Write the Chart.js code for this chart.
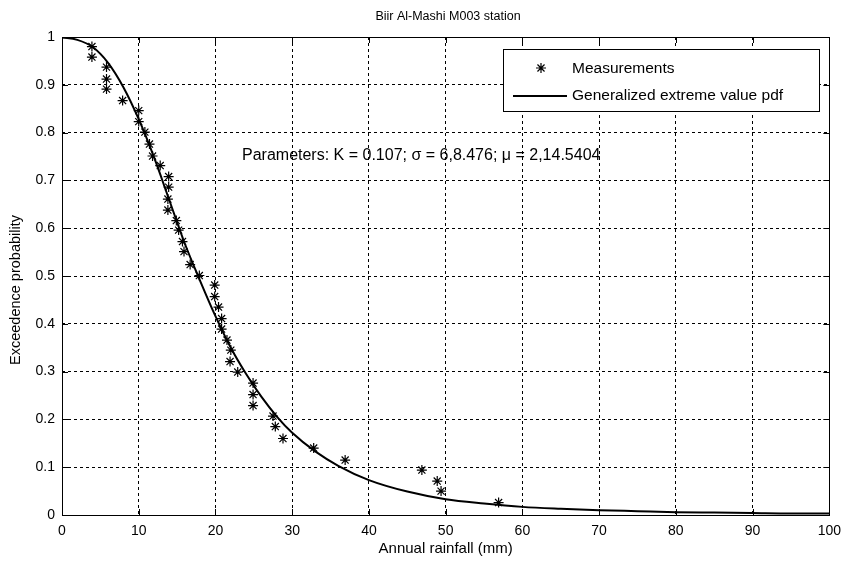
<!DOCTYPE html>
<html>
<head>
<meta charset="utf-8">
<script src="https://cdn.jsdelivr.net/npm/chart.js@4.4.1/dist/chart.umd.min.js"></script>
<style>
  html, body { margin: 0; padding: 0; background: #fff; }
  #wrap { width: 849px; height: 561px; }
</style>
</head>
<body>
<div id="wrap"><canvas id="myChart"></canvas></div>
<script>
// Measured points (annual rainfall mm, exceedance probability)
const measX = [3.9, 3.9, 5.8, 5.8, 5.8, 7.9, 10, 10, 10.8, 11.4, 11.8, 12.8, 13.9, 13.9, 13.8, 13.8, 14.9, 15.2, 15.7, 15.9,
  16.7, 17.9, 19.9, 19.9, 20.4, 20.8, 20.8, 21.5, 22.0, 21.9, 22.9, 24.9, 24.9, 24.9, 27.5, 27.8, 28.8, 32.8, 36.9, 46.9, 48.9, 49.4, 56.9];
const measY = [0.98, 0.958, 0.937, 0.912, 0.891, 0.867, 0.846, 0.823, 0.801, 0.776, 0.751, 0.731, 0.708, 0.686, 0.661, 0.638, 0.616, 0.596, 0.572, 0.551,
  0.524, 0.501, 0.481, 0.457, 0.435, 0.411, 0.389, 0.366, 0.345, 0.321, 0.299, 0.276, 0.252, 0.229, 0.207, 0.185, 0.160, 0.140, 0.115, 0.094, 0.071, 0.050, 0.026];

// Fitted GEV curve
const fitX = [0, 2, 4, 6, 8, 10, 12, 14, 16, 18, 20, 22, 24, 26, 28, 30, 33, 36, 40, 45, 50, 55, 60, 65, 70, 75, 80, 85, 90, 95, 100];
const fitY = [0.999, 0.994, 0.979, 0.946, 0.895, 0.828, 0.748, 0.658, 0.568, 0.49, 0.416, 0.35, 0.295, 0.247, 0.206, 0.172, 0.133, 0.103, 0.073,
  0.049, 0.033, 0.024, 0.017, 0.013, 0.010, 0.008, 0.006, 0.005, 0.004, 0.003, 0.003];

const xTicks = [0, 10, 20, 30, 40, 50, 60, 70, 80, 90, 100];
const yTicks = [0, 0.1, 0.2, 0.3, 0.4, 0.5, 0.6, 0.7, 0.8, 0.9, 1];

const chartTitle = 'Biir Al-Mashi M003 station';
const yTitle = 'Exceedence probability';
const paramText = 'Parameters: K = 0.107; \u03c3 = 6,8.476; \u03bc = 2,14.5404';
const FONT = '"Liberation Sans", Arial, sans-serif';

// frame, inward ticks, titles, parameter note and legend box
const extras = {
  id: 'extras',
  afterDraw(chart) {
    const c = chart.ctx, a = chart.chartArea;
    const sx = chart.scales.x, sy = chart.scales.y;
    c.save();
    c.strokeStyle = '#000';
    c.lineWidth = 1;
    c.setLineDash([]);
    c.strokeRect(Math.round(a.left) + 0.5, Math.round(a.top) + 0.5, Math.round(a.right - a.left), Math.round(a.bottom - a.top));
    c.beginPath();
    xTicks.forEach(v => {
      const px = Math.round(sx.getPixelForValue(v)) + 0.5;
      c.moveTo(px, a.bottom); c.lineTo(px, a.bottom - 6);
      c.moveTo(px, a.top); c.lineTo(px, a.top + 6);
    });
    yTicks.forEach(v => {
      const py = Math.round(sy.getPixelForValue(v)) + 0.5;
      c.moveTo(a.left, py); c.lineTo(a.left + 6, py);
      c.moveTo(a.right, py); c.lineTo(a.right - 6, py);
    });
    c.stroke();

    c.fillStyle = '#000';
    c.font = '12.5px ' + FONT;
    c.textAlign = 'center';
    c.textBaseline = 'middle';
    c.fillText(chartTitle, 448, 17);

    c.save();
    c.translate(16, 290);
    c.rotate(-Math.PI / 2);
    c.font = '14.5px ' + FONT;
    c.fillText(yTitle, 0, 0);
    c.restore();

    c.font = '16px ' + FONT;
    c.textAlign = 'left';
    c.fillText(paramText, 242, 156);

    // legend
    const lx = 503.5, ly = 49.5, lw = 316, lh = 62;
    c.fillStyle = '#fff';
    c.fillRect(lx, ly, lw, lh);
    c.strokeRect(lx, ly, lw, lh);
    c.fillStyle = '#000';
    c.font = '15.5px ' + FONT;
    c.fillText('Measurements', 572, 69);
    c.fillText('Generalized extreme value pdf', 572, 96);
    c.lineWidth = 2;
    c.beginPath();
    c.moveTo(513, 96); c.lineTo(567, 96);
    c.stroke();
    c.lineWidth = 1.2;
    c.beginPath();
    const cx = 541, cy = 68, r = 5;
    for (let k = 0; k < 4; k++) {
      const ang = k * Math.PI / 4;
      c.moveTo(cx - r * Math.cos(ang), cy - r * Math.sin(ang));
      c.lineTo(cx + r * Math.cos(ang), cy + r * Math.sin(ang));
    }
    c.stroke();
    c.restore();
  }
};

const ctx = document.getElementById('myChart').getContext('2d');
const myChart = new Chart(ctx, {
  type: 'scatter',
  data: {
    datasets: [{
      label: 'Measurements',
      data: measX.map((x, i) => ({ x: x, y: measY[i] })),
      showLine: false,
      pointStyle: 'star',
      pointRadius: 5,
      borderColor: '#000',
      backgroundColor: '#000',
      borderWidth: 1.2,
      order: 1
    }, {
      label: 'Generalized extreme value pdf',
      data: fitX.map((x, i) => ({ x: x, y: fitY[i] })),
      showLine: true,
      pointRadius: 0,
      borderColor: '#000',
      borderWidth: 2,
      cubicInterpolationMode: 'monotone',
      order: 2
    }]
  },
  options: {
    responsive: true,
    maintainAspectRatio: false,
    animation: false,
    layout: { padding: { left: 0, right: 16, top: 37, bottom: 0 } },
    plugins: {
      legend: { display: false },
      tooltip: { enabled: false }
    },
    scales: {
      x: {
        type: 'linear',
        min: 0, max: 100,
        afterFit: s => { s.height = 46; },
        afterBuildTicks: s => { s.ticks = xTicks.map(v => ({ value: v })); },
        ticks: { color: '#000', padding: 8, font: { family: FONT, size: 14 }, callback: v => String(v) },
        grid: { color: '#000', lineWidth: 1, drawTicks: false },
        border: { display: false, dash: [3, 3] },
        title: { display: true, text: 'Annual rainfall (mm)', color: '#000', font: { family: FONT, size: 15 }, padding: { top: 0, bottom: 3 } }
      },
      y: {
        type: 'linear',
        min: 0, max: 1,
        afterFit: s => { s.width = 62; },
        afterBuildTicks: s => { s.ticks = yTicks.map(v => ({ value: v })); },
        ticks: { color: '#000', padding: 7, font: { family: FONT, size: 14 }, callback: v => String(v) },
        grid: { color: '#000', lineWidth: 1, drawTicks: false },
        border: { display: false, dash: [3, 3] }
      }
    }
  },
  plugins: [extras]
});
</script>
</body>
</html>
